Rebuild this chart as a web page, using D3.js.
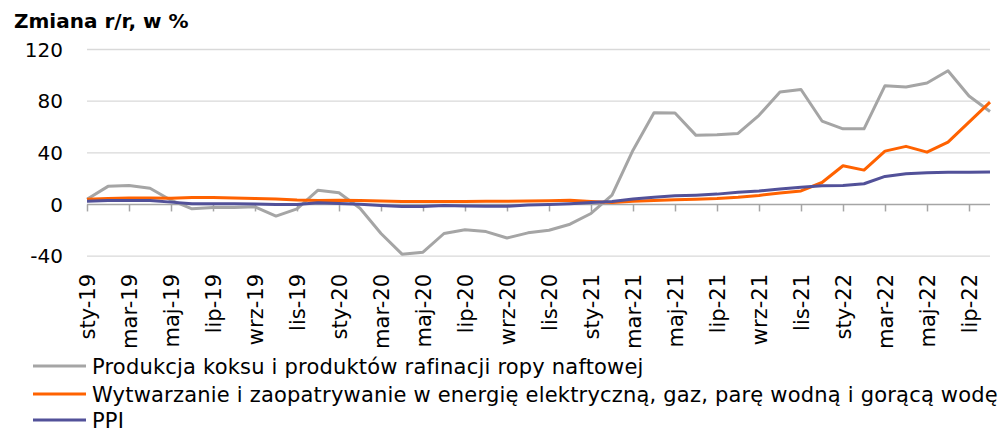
<!DOCTYPE html>
<html><head><meta charset="utf-8">
<script src="https://cdn.jsdelivr.net/npm/d3@7"></script>
<style>
body{margin:0;background:#fff;}
svg{display:block;font-family:"DejaVu Sans",sans-serif;}
</style></head>
<body><svg id="c" width="1004" height="433"></svg>
<script>
const monthNames = ["sty","lut","mar","kwi","maj","cze","lip","sie","wrz","paź","lis","gru"];
const years = ["19","20","21","22"];
const categories = [];
years.forEach(y => monthNames.forEach(m => categories.push(m + "-" + y)));
categories.splice(44); // sty-19 .. sie-22

const seriesNames = [
  "Produkcja koksu i produktów rafinacji ropy naftowej",
  "Wytwarzanie i zaopatrywanie w energię elektryczną, gaz, parę wodną i gorącą wodę",
  "PPI"
];
const coke = [4,14,14.7,12.6,3.3,-3.4,-2.3,-2.3,-1.8,-9,-3.4,11,
  9,-3,-22.5,-38.5,-37,-22.5,-19.6,-21,-26,-22,-20,-15.3,
  -7,7.2,42,71,70.8,53.5,54,55,69,87,89,64.6,
  58.6,58.6,92,91,94,103.6,84,72];
const energy = [4,4.6,5,5,4.8,5.4,5.4,5,4.6,4.2,3.4,3,
  3.3,3,2.6,2.3,2.2,2.2,2.3,2.4,2.5,2.6,2.8,3.3,
  2.3,1.6,2.4,3,3.6,4,4.6,5.6,7,8.8,10.5,17,
  30,26.6,41.3,45,40.5,48.3,63.8,79.3];
const ppi = [2.5,3,3,3,1.8,0.5,0.5,0.5,0.3,0,0,1.3,
  0.8,0.2,-0.8,-1.5,-1.6,-0.9,-1.2,-1.3,-1.4,-0.4,0,0.6,
  1.5,2.3,4.3,5.6,6.7,7.2,8,9.5,10.5,11.9,13.4,14.4,
  14.7,16,21.7,23.7,24.5,25,25,25.2];
const yTicks = [-40,0,40,80,120];
const colors = ["#A5A5A5","#FF6200","#525199"];

const svg = d3.select("#c");
const x = d3.scalePoint().domain(categories).range([87, 990]);
const y = d3.scaleLinear().domain([-40,120]).range([256.1, 49.5]);

// title
svg.append("text").attr("x",14).attr("y",28)
  .attr("font-weight","bold").attr("font-size",20).attr("fill","#000")
  .text("Zmiana r/r, w %");

// gridlines
svg.append("g").selectAll("line").data(yTicks.filter(d=>d!==0)).join("line")
  .attr("x1",87).attr("x2",990).attr("y1",d=>y(d)).attr("y2",d=>y(d))
  .attr("stroke","#D9D9D9").attr("stroke-width",1.3);

// y labels
svg.append("g").selectAll("text").data(yTicks).join("text")
  .attr("x",63).attr("y",d=>y(d)).attr("dy","0.36em")
  .attr("text-anchor","end").attr("font-size",20).attr("fill","#000")
  .text(d=>d);

// x axis
const xAxis = d3.axisBottom(x)
  .tickValues(categories.filter((d,i)=>i%2===0))
  .tickSize(7).tickSizeOuter(0);
const gx = svg.append("g").attr("transform",`translate(0,${y(0)})`).call(xAxis);
gx.select(".domain").attr("stroke","#A5A5A5").attr("stroke-width",1.5).attr("d",`M87,0H990`);
gx.selectAll(".tick line").attr("stroke","#A5A5A5").attr("stroke-width",1.5);
gx.selectAll(".tick text")
  .attr("font-size",21).attr("fill","#000").attr("font-family","\"DejaVu Sans\",sans-serif")
  .attr("transform","rotate(-90)")
  .attr("text-anchor","end")
  .attr("x",-(274-y(0)) ).attr("y",0).attr("dy","0.36em");

// lines
const line = d3.line().x((d,i)=>x(categories[i])).y(d=>y(d));
[coke, energy, ppi].forEach((s,k)=>{
  svg.append("path").datum(s).attr("d",line).attr("fill","none")
    .attr("stroke",colors[k]).attr("stroke-width",3).attr("stroke-linejoin","round");
});

// legend
const ly = [366,394,420];
seriesNames.forEach((n,k)=>{
  svg.append("line").attr("x1",33).attr("x2",86).attr("y1",ly[k]).attr("y2",ly[k])
    .attr("stroke",colors[k]).attr("stroke-width",3);
  svg.append("text").attr("x",92).attr("y",ly[k]).attr("dy","0.36em")
    .attr("font-size",21).attr("letter-spacing",0.2).attr("fill","#000").text(n);
});
</script></body></html>
